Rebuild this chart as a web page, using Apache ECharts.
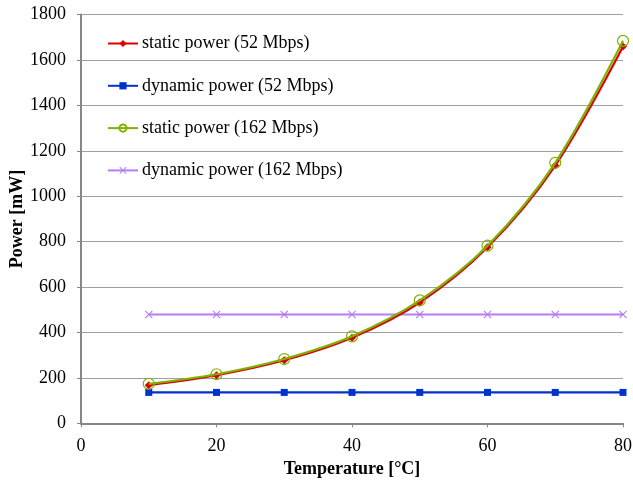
<!DOCTYPE html>
<html><head><meta charset="utf-8">
<script src="https://cdn.jsdelivr.net/npm/echarts@6/dist/echarts.min.js"></script>
<style>html,body{margin:0;padding:0;background:#fff}#c{width:633px;height:482px}</style>
</head><body><div id="c"></div>
<script>
const temperatures = [10, 20, 30, 40, 50, 60, 70, 80];
const staticPower52 = [168, 212, 278, 377, 532, 775, 1135, 1659];
const dynamicPower52 = [136, 136, 136, 136, 136, 136, 136, 136];
const staticPower162 = [174, 216, 283, 383, 541, 782, 1147, 1684];
const dynamicPower162 = [479, 479, 479, 479, 479, 479, 479, 479];
const seriesNames = ['static power (52 Mbps)', 'dynamic power (52 Mbps)', 'static power (162 Mbps)', 'dynamic power (162 Mbps)'];

const pairs = arr => temperatures.map((t, i) => [t, arr[i]]);
const serif = '"Liberation Serif", "DejaVu Serif", serif';
const xMark = 'path://M0,1L1,0L5,4L9,0L10,1L6,5L10,9L9,10L5,6L1,10L0,9L4,5Z';
const FS = 18;

const chart = echarts.init(document.getElementById('c'), null, {renderer: 'canvas'});
chart.setOption({
  animation: false,
  backgroundColor: '#fff',
  grid: {left: 81, right: 10, top: 14.5, bottom: 58.7, containLabel: false, outerBoundsMode: 'none'},
  legend: {
    orient: 'vertical', left: 102, top: 29.5, itemWidth: 30, itemHeight: 9, itemGap: 24.3,
    padding: 5,
    textStyle: {fontFamily: serif, fontSize: FS, color: '#000', padding: [0, 0, 0, -1]},
    data: seriesNames
  },
  xAxis: {
    type: 'value', min: 0, max: 80, interval: 20,
    name: 'Temperature [°C]', nameLocation: 'middle', nameGap: 37,
    nameTextStyle: {fontFamily: serif, fontSize: FS, fontWeight: 'bold', color: '#000'},
    axisLine: {show: true, lineStyle: {color: '#868686', width: 2}},
    axisTick: {show: true, length: 4, lineStyle: {color: '#868686'}},
    axisLabel: {fontFamily: serif, fontSize: FS, color: '#000', margin: 14},
    splitLine: {show: false}
  },
  yAxis: {
    type: 'value', min: 0, max: 1800, interval: 200,
    name: 'Power [mW]', nameLocation: 'middle', nameGap: 55, nameMoveOverlap: false,
    nameTextStyle: {fontFamily: serif, fontSize: FS, fontWeight: 'bold', color: '#000'},
    axisLine: {show: true, lineStyle: {color: '#868686', width: 2}},
    axisTick: {show: true, length: 4, lineStyle: {color: '#868686'}},
    axisLabel: {fontFamily: serif, fontSize: FS, color: '#000', margin: 15, formatter: v => String(v)},
    splitLine: {show: true, lineStyle: {color: '#a0a0a0', width: 1.2}}
  },
  series: [
    {name: seriesNames[0], type: 'line', smooth: 0.35, data: pairs(staticPower52),
     symbol: 'diamond', symbolSize: 8, color: '#dd0000',
     lineStyle: {color: '#dd0000', width: 2.2}, itemStyle: {color: '#dd0000'}, z: 3},
    {name: seriesNames[1], type: 'line', data: pairs(dynamicPower52),
     symbol: 'rect', symbolSize: 7, color: '#0033cc',
     lineStyle: {color: '#0033cc', width: 2.2}, itemStyle: {color: '#0033cc'}, z: 2},
    {name: seriesNames[2], type: 'line', smooth: 0.35, data: pairs(staticPower162),
     symbol: 'circle', symbolSize: 11, color: '#80b000',
     lineStyle: {color: '#80b000', width: 2.2},
     itemStyle: {color: 'rgba(255,255,255,0)', borderColor: '#80b000', borderWidth: 1.2}, z: 4},
    {name: seriesNames[3], type: 'line', data: pairs(dynamicPower162),
     symbol: xMark, symbolSize: 8, color: '#b77cf5',
     lineStyle: {color: '#b77cf5', width: 2.2}, itemStyle: {color: '#b77cf5'}, z: 2}
  ]
});
</script></body></html>
